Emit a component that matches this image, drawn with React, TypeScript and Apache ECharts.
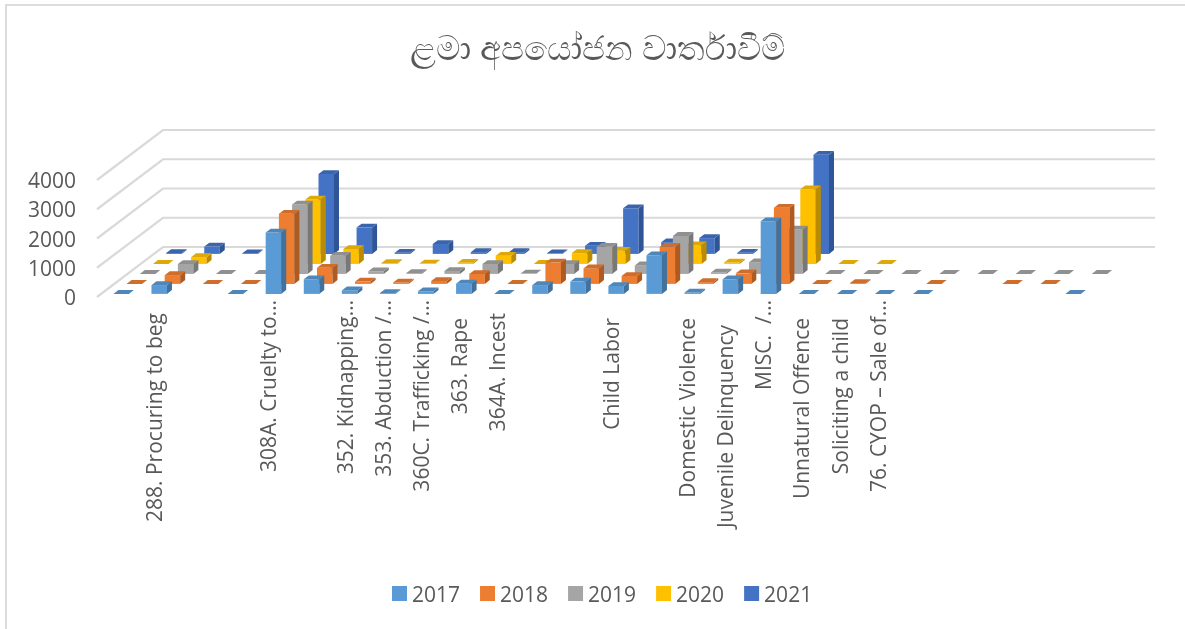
import React, { useEffect, useRef } from "react";
import * as echarts from "echarts";

const titleText = "ළමා අපයෝජන වාර්තාවීම්";
const categories = ["", "288. Procuring to beg", "", "", "308A. Cruelty to…", "", "352. Kidnapping…", "353. Abduction /…", "360C. Trafficking /…", "363. Rape", "364A. Incest", "", "", "Child Labor", "", "Domestic Violence", "Juvenile Delinquency", "MISC.  /…", "Unnatural Offence", "Soliciting a child", "76. CYOP – Sale of…", "", "", "", "", ""];
const yTicks = [0, 1000, 2000, 3000, 4000];
const years = ["2017", "2018", "2019", "2020", "2021"];
const _ = null;
const v2017 = [0, 300, _, 0, 2100, 500, 120, 30, 90, 350, 0, 300, 420, 270, 1320, 50, 500, 2480, 0, 0, 0, 0, _, _, _, 0];
const v2018 = [0, 300, 0, 0, 2400, 550, 80, 50, 100, 340, 0, 730, 530, 270, 1270, 60, 360, 2600, 0, 30, _, 0, _, 0, 0, _];
const v2019 = [0, 340, 0, 0, 2370, 620, 90, 30, 100, 340, 10, 340, 930, 290, 1300, 50, 400, 1520, 0, 0, 0, 0, 0, 0, 0, 0];
const v2020 = [0, 230, _, _, 2200, 510, 30, 10, 40, 280, 0, 370, 450, 150, 640, 50, 100, 2550, 0, 0, _, _, _, _, _, _];
const v2021 = [30, 250, 20, _, 2730, 900, 40, 340, 60, 60, 20, 280, 1560, 400, 540, 40, _, 3390, _, _, _, _, _, _, _, _];
const seriesValues = [v2017, v2018, v2019, v2020, v2021];

const frontColors = ["#5B9BD5", "#ED7D31", "#A5A5A5", "#FFC000", "#4472C4"];
const topColors = ["#4F87BA", "#CF6D2C", "#909090", "#DEA806", "#3B64AC"];
const sideColors = ["#41719C", "#AE5A21", "#787878", "#BC8C00", "#2F5597"];

// Labels that Excel did not truncate start a little further from the axis.
const labelInset = [0, 13, 0, 0, 0, 0, 0, 0, 0, 18, 13, 0, 0, 18, 0, 18, 25, 0, 18, 18, 0, 0, 0, 0, 0, 0];

const DEPTH_X = 66, DEPTH_Y = 50, ROWS = 5, BAR_W = 15.5, BAR_DX = 5, BAR_DY = 3.8;

function wallItem(params: any, api: any) {
  const v = api.value(0);
  const sys = params.coordSys;
  const y = api.coord([0, v])[1];
  const x0 = sys.x;
  const x1 = sys.x + sys.width;
  return {
    type: "polyline",
    shape: { points: [[x0, y], [x0 + DEPTH_X, y - DEPTH_Y], [x1 + DEPTH_X + 2, y - DEPTH_Y]] },
    style: { stroke: "#D9D9D9", lineWidth: 2.2, fill: "none" },
    silent: true,
  };
}

function barItem(row: number) {
  return (params: any, api: any) => {
    const idx = api.value(0);
    const val = api.value(1);
    const top = api.coord([idx, val]);
    const base = api.coord([idx, 0]);
    const ox = (DEPTH_X / ROWS) * (row + 0.5) - BAR_DX / 2 + 1;
    const oy = -(DEPTH_Y / ROWS) * (row + 0.5) + BAR_DY / 2;
    const xl = base[0] + ox - BAR_W / 2;
    const xr = xl + BAR_W;
    const yb = base[1] + oy;
    const yt = top[1] + oy;
    const h = yb - yt;
    const kids: any[] = [];
    if (h > 0.2) {
      kids.push({ type: "rect", shape: { x: xl, y: yt, width: BAR_W, height: h }, style: { fill: frontColors[row] } });
      kids.push({ type: "polygon", shape: { points: [[xr, yt], [xr + BAR_DX, yt - BAR_DY], [xr + BAR_DX, yb - BAR_DY], [xr, yb]] }, style: { fill: sideColors[row] } });
    }
    kids.push({ type: "polygon", shape: { points: [[xl, yt], [xr, yt], [xr + BAR_DX, yt - BAR_DY], [xl + BAR_DX, yt - BAR_DY]] }, style: { fill: topColors[row] } });
    return { type: "group", children: kids };
  };
}

export default function App() {
  const ref = useRef<HTMLDivElement>(null);
  useEffect(() => {
    const chart = echarts.init(ref.current!, undefined, { renderer: "svg" });
    const font = "'Open Sans', sans-serif";
    chart.setOption({
      animation: false,
      backgroundColor: "#fff",
      title: {
        text: titleText,
        left: 405,
        top: 25,
        textStyle: { fontFamily: "'Noto Sans', 'Noto Sans CJK SC', sans-serif", fontSize: 34, fontWeight: "normal", color: "#595959" },
      },
      legend: {
        data: years,
        top: 578,
        left: 387,
        icon: "rect",
        itemWidth: 15,
        itemHeight: 15,
        itemGap: 20,
        textStyle: { fontFamily: font, fontSize: 21, color: "#595959" },
      },
      grid: { left: 97, top: 180, width: 990, height: 117 },
      xAxis: {
        type: "category",
        data: categories.map((c, i) => ({ value: c, textStyle: { padding: [4, labelInset[i], 0, 0] } })),
        axisLine: { show: false },
        axisTick: { show: false },
        splitLine: { show: false },
        axisLabel: { interval: 0, rotate: 90, margin: 3, fontFamily: font, fontSize: 21, color: "#595959" },
      },
      yAxis: {
        type: "value",
        min: 0,
        max: 4000,
        interval: 1000,
        axisLine: { show: false },
        axisTick: { show: false },
        splitLine: { show: false },
        axisLabel: { margin: 21, fontFamily: font, fontSize: 21, color: "#595959", formatter: (v: number) => String(v) },
      },
      series: [
        {
          type: "custom",
          name: "walls",
          coordinateSystem: "cartesian2d",
          data: yTicks.map((t) => [t]),
          encode: { y: 0 },
          renderItem: wallItem,
          silent: true,
          z: 1,
        },
        ...years.map((y, row) => ({
          type: "custom",
          name: y,
          coordinateSystem: "cartesian2d",
          itemStyle: { color: frontColors[row] },
          encode: { x: 0, y: 1 },
          data: seriesValues[row].map((v, i) => (v === null ? null : [i, v])).filter(Boolean),
          renderItem: barItem(row),
          silent: true,
          z: 10 - row,
        })),
      ],
      graphic: [
        { type: "rect", shape: { x: 5, y: 4, width: 1180, height: 2 }, style: { fill: "#DCDCDC" }, silent: true },
        { type: "rect", shape: { x: 5, y: 4, width: 2, height: 625 }, style: { fill: "#DCDCDC" }, silent: true },
      ],
    });
    return () => chart.dispose();
  }, []);
  return <div ref={ref} style={{ position: "absolute", left: 0, top: 0, width: 1185, height: 629, filter: "blur(0.5px)" }} />;
}
